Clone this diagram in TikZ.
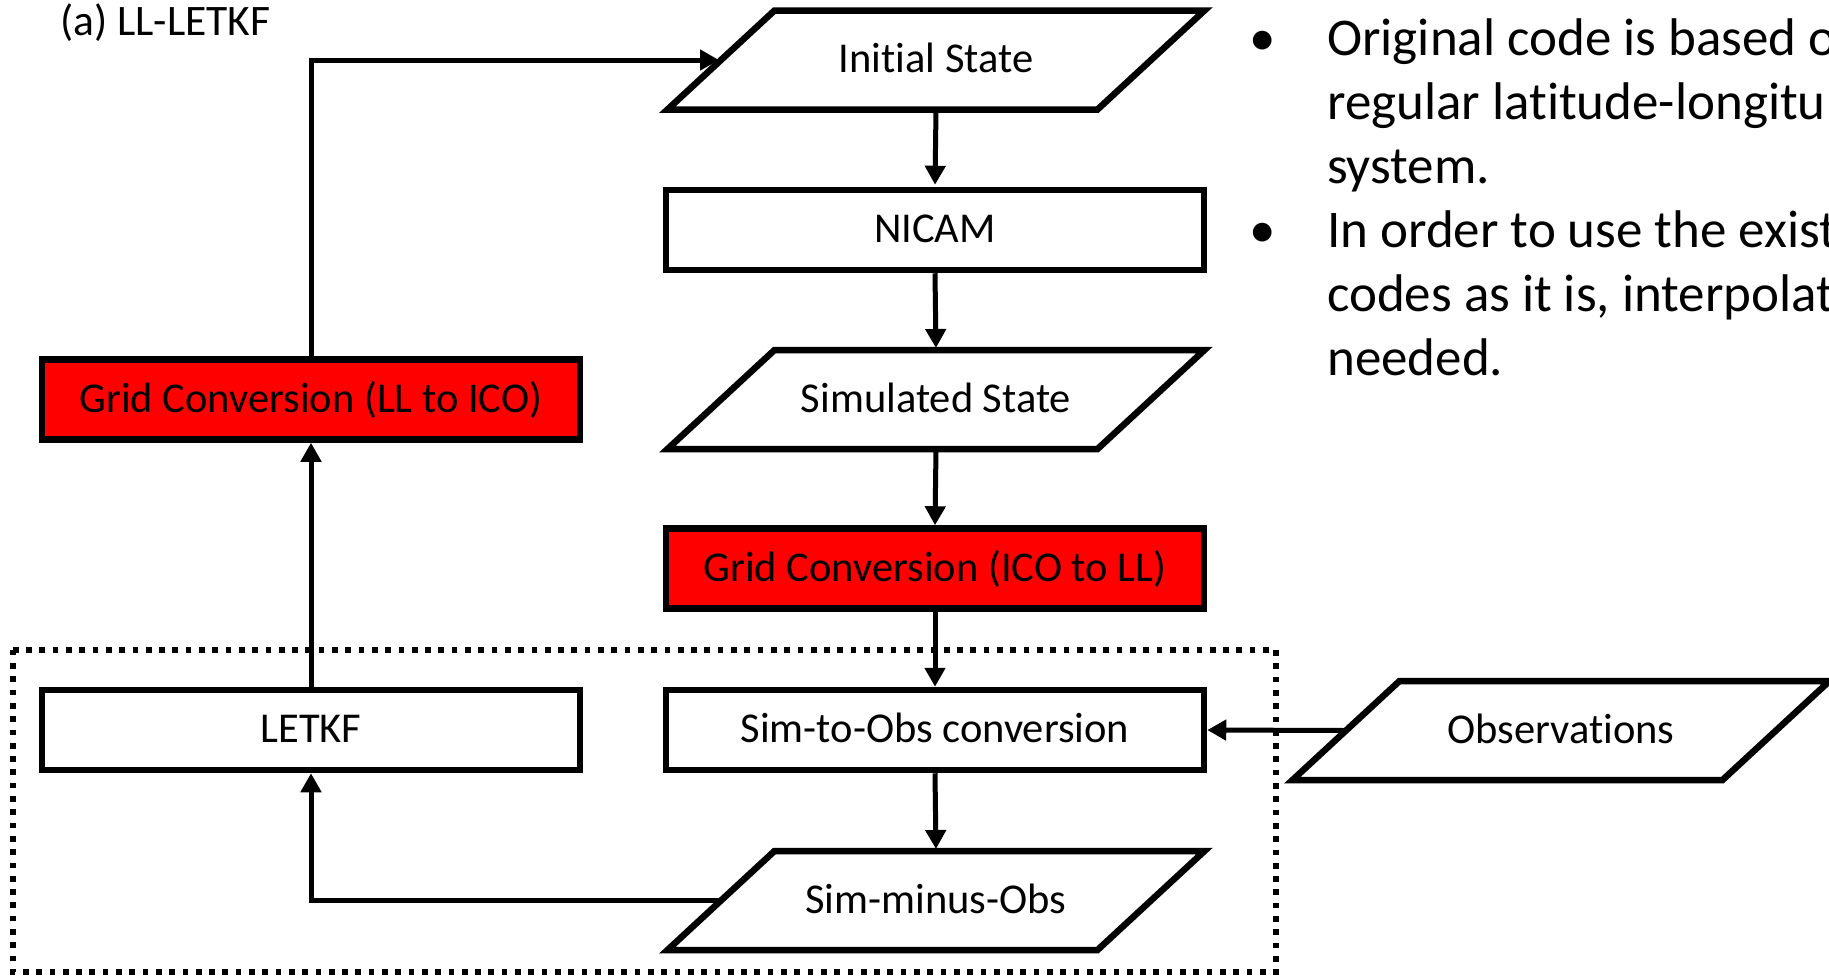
\documentclass[tikz,border=0pt]{standalone}
\usepackage{fontspec}
\setmainfont{Carlito}[Ligatures={NoCommon}]
\usetikzlibrary{arrows.meta}
\begin{document}
\begin{tikzpicture}[x=1pt,y=-1pt,
  boxfont/.style={font={\fontsize{42.5}{50}\selectfont}, text height=28pt, text depth=2.6pt},
  procbox/.style={draw, line width=6.5pt, minimum width=538pt, minimum height=80pt, inner sep=0pt, fill=white, boxfont},
  redbox/.style={procbox, fill=red},
  iobox/.style={minimum width=430pt, minimum height=99pt, inner sep=0pt, outer sep=0pt, boxfont},
  paraline/.style={line width=6.5pt, line join=miter},
  conn/.style={line width=5pt, -{Triangle[length=19pt,width=20pt]}},
  dotbox/.style={line width=5.7pt, dash pattern=on 5.7pt off 7.6pt},
  bullettext/.style={font={\fontsize{53}{64}\selectfont}, inner sep=0pt, anchor=base west},
  bulletdot/.style={font={\fontsize{53}{64}\selectfont}, inner sep=0pt, anchor=base}
]
\useasboundingbox (0,0) rectangle (1829,975);

% dotted frame
\draw[dotbox] (12.7,649.7) rectangle (1276,972);

% title
\node[font={\fontsize{43.5}{52}\selectfont}, anchor=base west, inner sep=0pt] (title) at (60,35) {(a) LL-LETKF};

% nodes
\node[iobox] (init) at (936,60) {Initial State};
\node[procbox] (nicam) at (935,230) {NICAM};
\node[iobox] (simst) at (936,399.5) {Simulated State};
\node[redbox] (ico2ll) at (935,568.5) {Grid Conversion (ICO to LL)};
\node[procbox] (s2o) at (935,730) {Sim-to-Obs conversion};
\node[iobox] (smo) at (936,900.5) {Sim-minus-Obs};
\node[procbox] (letkf) at (311,730) {LETKF};
\node[redbox] (ll2ico) at (311,399.5) {Grid Conversion (LL to ICO)};
\node[iobox] (obs) at (1561,730.5) {Observations};

% parallelogram outlines
\foreach \n in {init,simst,smo,obs}
  \draw[paraline] ([xshift=53.5pt]\n.north west) -- ([xshift=53.5pt]\n.north east)
     -- ([xshift=-53.5pt]\n.south east) -- ([xshift=-53.5pt]\n.south west) -- cycle;

% connectors
\draw[conn, shorten >=2pt] (init.south) -- (nicam.north);
\draw[conn, shorten >=2pt] (nicam.south) -- (simst.north);
\draw[conn] (simst.south) -- (ico2ll.north);
\draw[conn] (ico2ll.south) -- (s2o.north);
\draw[conn, shorten >=2pt] (s2o.south) -- (smo.north);
\draw[conn] (obs.west) -- (s2o.east);
\draw[conn] (smo.west) -| (letkf.south);
\draw[conn] (letkf.north) -- (ll2ico.south);
\draw[conn, shorten >=2pt] (ll2ico.north) |- (init.west);

% bullet text (cut at the right edge, as in the reference)
\begin{scope}
\clip (0,0) rectangle (1829,975);
\node[bulletdot] (b1) at (1263,55) {•};
\node[bullettext] (p1a) at (1327,55) {Original code is based o};
\node[bullettext] (p1b) at (1327,119) {regular latitude-longitu};
\node[bullettext] (p1c) at (1327,183) {system.};
\node[bulletdot] (b2) at (1263,247) {•};
\node[bullettext] (p2a) at (1327,247) {In order to use the exist};
\node[bullettext] (p2b) at (1327,311) {codes as it is, interpolat};
\node[bullettext] (p2c) at (1327,375) {needed.};
\end{scope}
\end{tikzpicture}
\end{document}
